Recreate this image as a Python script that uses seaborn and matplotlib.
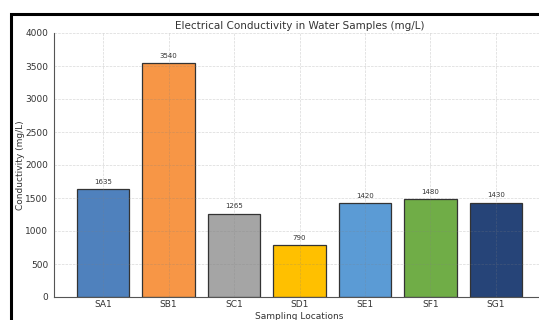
import pandas as pd
import numpy as np
import matplotlib
matplotlib.use("Agg")
import matplotlib.pyplot as plt
import seaborn as sns
from matplotlib.patches import Rectangle

# data
locations = ['SA1', 'SB1', 'SC1', 'SD1', 'SE1', 'SF1', 'SG1']
conductivity = [1635, 3540, 1265, 790, 1420, 1480, 1430]
bar_colors = ['#4F81BD', '#F79646', '#A5A5A5', '#FFC000', '#5B9BD5', '#70AD47', '#264478']
y_ticks = [0, 500, 1000, 1500, 2000, 2500, 3000, 3500, 4000]

df = pd.DataFrame({'Location': locations, 'Conductivity': conductivity})

sns.set_style("white")
plt.rcParams['font.family'] = ['DejaVu Sans']

fig = plt.figure(figsize=(5.39, 3.2), dpi=100)
W, H = 539, 320
ax = fig.add_axes([54 / W, 1 - 297 / H, (545 - 54) / W, (297 - 33) / H])

sns.barplot(data=df, x='Location', y='Conductivity', hue='Location',
            palette=bar_colors, legend=False, width=0.8,
            edgecolor='#333333', linewidth=0.9, saturation=1, ax=ax)

# value labels on top of bars
for i, v in enumerate(conductivity):
    ax.annotate(str(v), (i, v), xytext=(0, 3), textcoords='offset points',
                ha='center', va='bottom', fontsize=5, color='#333333')

ax.set_xlim(-0.75, 6.75)
ax.set_ylim(0, 4000)
ax.set_yticks(y_ticks)
ax.grid(True, linestyle='--', linewidth=0.5, color='gray', alpha=0.3)
ax.set_axisbelow(False)

ax.set_title('Electrical Conductivity in Water Samples (mg/L)', fontsize=7.5,
             color='#333333', pad=3)
ax.set_xlabel('Sampling Locations', fontsize=6.5, color='#333333', labelpad=2)
ax.set_ylabel('Conductivity (mg/L)', fontsize=6.5, color='#333333', labelpad=0)
ax.tick_params(axis='both', labelsize=6.5, colors='#333333', length=2, width=0.6, pad=2)
ax.tick_params(axis='x', direction='in')

for s in ['top', 'right']:
    ax.spines[s].set_visible(False)
for s in ['left', 'bottom']:
    ax.spines[s].set_color('#555555')
    ax.spines[s].set_linewidth(0.8)

# black frame of the original (cropped) figure
fig.patches.append(Rectangle((11 / W, -0.5), 2.0, (1 - 14 / H) + 0.5,
                             transform=fig.transFigure, fill=False,
                             edgecolor='black', linewidth=2.2, clip_on=False))

fig.savefig('out.png', dpi=100)
